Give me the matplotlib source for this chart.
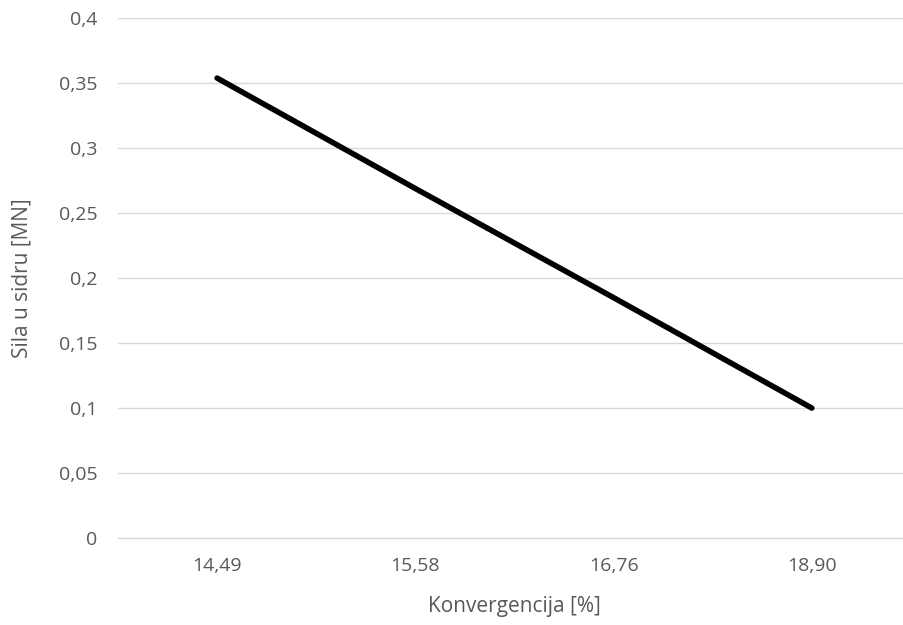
import matplotlib.pyplot as plt

# Data
categories = ['14,49', '15,58', '16,76', '18,90']
sila = [0.354, 0.269, 0.185, 0.100]
y_ticks = [0, 0.05, 0.1, 0.15, 0.2, 0.25, 0.3, 0.35, 0.4]
y_tick_labels = ['0', '0,05', '0,1', '0,15', '0,2', '0,25', '0,3', '0,35', '0,4']

text_col = '#595959'
grid_col = '#d9d9d9'
plt.rcParams['font.family'] = ['Open Sans', 'DejaVu Sans']

fig = plt.figure(figsize=(9.04, 6.25), dpi=100)
ax = fig.add_axes([0.1305, 0.1392, 0.8772, 0.8315])

x = list(range(len(categories)))
ax.plot(x, sila, color='black', lw=4.0, solid_capstyle='round', zorder=3)

ax.set_xlim(-0.5, len(categories) - 0.5)
ax.set_ylim(0, 0.4)
ax.set_xticks(x)
ax.set_xticklabels(categories)
ax.set_yticks(y_ticks)
ax.set_yticklabels(y_tick_labels)

ax.grid(axis='y', color=grid_col, lw=1.0)
ax.set_axisbelow(True)
for s in ['top', 'right', 'left']:
    ax.spines[s].set_visible(False)
ax.spines['bottom'].set_color(grid_col)
ax.spines['bottom'].set_linewidth(1.0)

ax.tick_params(axis='both', length=0, colors=text_col, labelsize=14)
ax.tick_params(axis='x', pad=14)
ax.tick_params(axis='y', pad=15)

ax.set_xlabel('Konvergencija [%]', color=text_col, fontsize=15, labelpad=15)
ax.set_ylabel('Sila u sidru [MN]', color=text_col, fontsize=15, labelpad=19)

fig.savefig('out.png', dpi=100)
